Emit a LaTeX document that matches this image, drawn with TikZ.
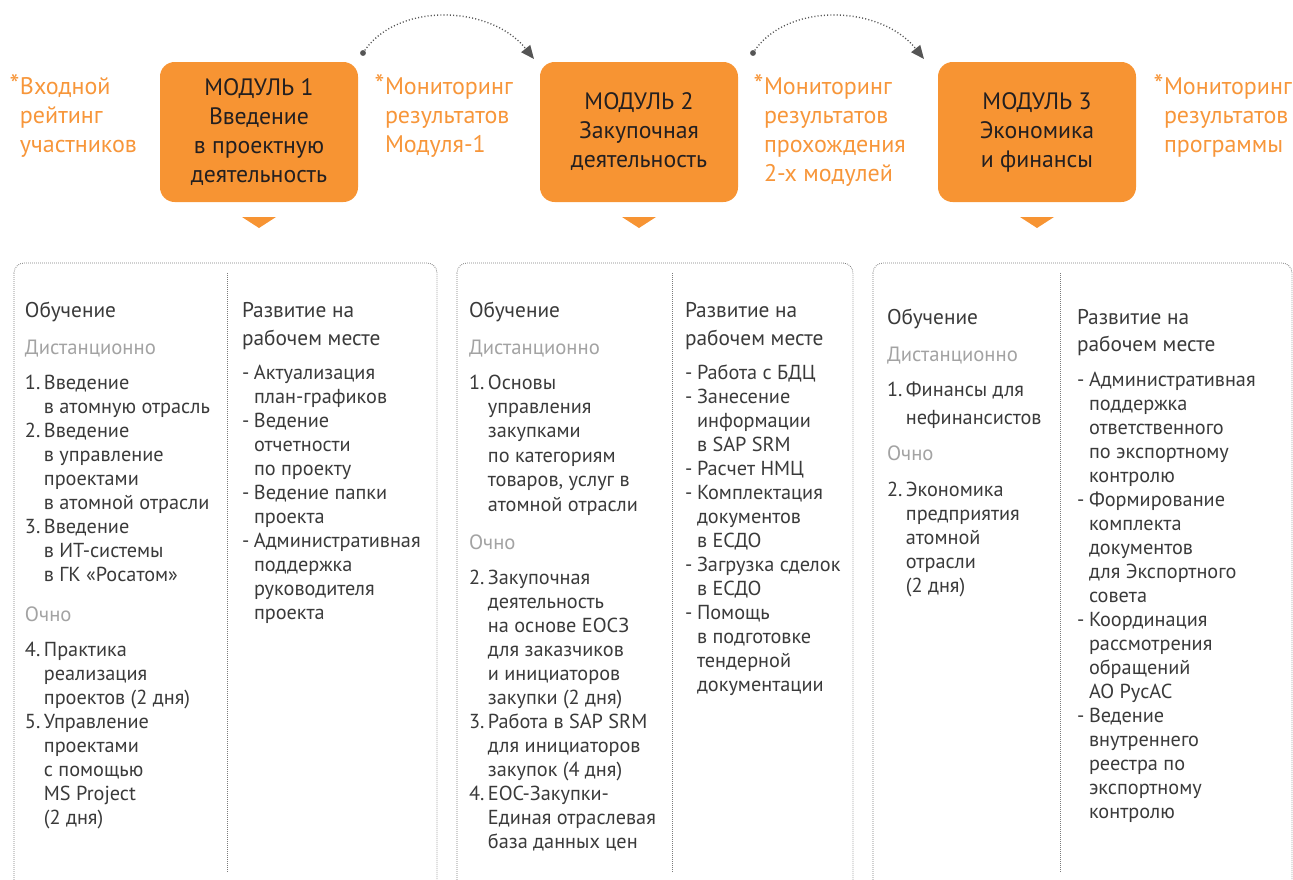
\documentclass[tikz,border=0pt]{standalone}
\usepackage{fontspec}
\setmainfont{PT Sans}
\usetikzlibrary{arrows.meta}
\definecolor{org}{HTML}{F79433}
\definecolor{lblc}{HTML}{F7963A}
\definecolor{moddark}{HTML}{231F20}
\definecolor{txt}{HTML}{3A3A3A}
\definecolor{subgray}{HTML}{A3A3A3}
\definecolor{framegray}{HTML}{7A7A7A}
\definecolor{arcgray}{HTML}{555555}
\newcommand\nm[1]{\makebox[14.2pt][l]{#1}}
\newcommand\ind{\hspace*{14.2pt}}
\newcommand\ds{\makebox[9pt][l]{-}}
\newcommand\dind{\hspace*{9pt}}
\newcommand\rows[5]{\foreach \t [count=\i from 0] in {#5}{\node[#1] at (#2,{#3+\i*#4}) {\t};}}
\tikzset{
  modbox/.style={fill=org, rounded corners=11pt, text=moddark, align=center,
    font=\fontsize{17.8}{21.75}\selectfont, minimum width=148.5pt, minimum height=105pt},
  lbl/.style={anchor=base west, text=lblc, font=\fontsize{18}{21.75}\selectfont},
  head/.style={anchor=base west, text=txt, font=\fontsize{16}{18}\selectfont},
  subh/.style={anchor=base west, text=subgray, font=\fontsize{15.5}{18}\selectfont},
  body/.style={anchor=base west, text=txt, font=\fontsize{15.2}{18}\selectfont},
  frame/.style={draw=framegray, line width=0.6pt, dash pattern=on 0.6pt off 0.9pt, rounded corners=7.5pt},
  arc/.style={draw=arcgray, line width=1pt, dash pattern=on 0.8pt off 1.6pt, -{Triangle[length=10pt,width=8.5pt]}},
  tri/.style={fill=org}
}
\newcommand\starmark{\llap{{\fontsize{21}{21}\selectfont*}\hspace{0.5pt}}}
\begin{document}
\begin{tikzpicture}[x=0.75pt,y=-0.75pt, every node/.style={inner sep=0pt, outer sep=0pt}]
\useasboundingbox (0,0) rectangle (1293,879);

% module boxes
\node[modbox] (m1) at (259,132) {МОДУЛЬ 1\\Введение\\в проектную\\деятельность};
\node[modbox] (m2) at (639,132) {МОДУЛЬ 2\\Закупочная\\деятельность};
\node[modbox] (m3) at (1037,132) {МОДУЛЬ 3\\Экономика\\и финансы};

\foreach \m in {m1,m2,m3}{
  \fill[tri] ([shift={(-17,15)}]\m.south) -- ([shift={(17,15)}]\m.south) -- ([shift={(0,26)}]\m.south) -- cycle;
}

% side labels
\rows{lbl}{20}{94}{29}{\starmark Входной,рейтинг,участников}
\rows{lbl}{385}{94}{29}{\starmark Мониторинг,результатов,Модуля-1}
\rows{lbl}{764}{94}{29}{\starmark Мониторинг,результатов,прохождения,2-х модулей}
\rows{lbl}{1164}{94}{29}{\starmark Мониторинг,результатов,программы}

% arcs
\coordinate (a1s) at (363,53); \coordinate (a1e) at (534,59);
\coordinate (a2s) at (753,53); \coordinate (a2e) at (924,59);
\fill[arcgray] (a1s) circle (2.2pt);
\fill[arcgray] (a2s) circle (2.2pt);
\draw[arc] (a1s) .. controls (395,2) and (490,4) .. (a1e);
\draw[arc] (a2s) .. controls (785,2) and (880,4) .. (a2e);

% frames
\draw[frame] (14,263) rectangle (437,892);
\draw[frame] (457,263) rectangle (853,892);
\draw[frame] (873,263) rectangle (1292,892);
\coordinate (s1t) at (227,273); \coordinate (s1b) at (227,872);
\coordinate (s2t) at (672,273); \coordinate (s2b) at (672,872);
\coordinate (s3t) at (1060,273); \coordinate (s3b) at (1060,872);
\draw[frame] (s1t) -- (s1b);
\draw[frame] (s2t) -- (s2b);
\draw[frame] (s3t) -- (s3b);

% box 1
\node[head] at (25,317) {Обучение};
\node[subh] at (25,354) {Дистанционно};
\rows{body}{25}{389}{24}{\nm{1.}Введение,\ind в атомную отрасль,\nm{2.}Введение,\ind в управление,\ind проектами,\ind в атомной отрасли,\nm{3.}Введение,\ind в ИТ-системы,\ind в ГК «Росатом»}
\node[subh] at (25,621) {Очно};
\rows{body}{25}{656}{24}{\nm{4.}Практика,\ind реализация,\ind проектов (2 дня),\nm{5.}Управление,\ind проектами,\ind с помощью,\ind MS Project,\ind (2 дня)}
\rows{head}{242}{317}{28}{Развитие на,рабочем месте}
\rows{body}{242}{379}{24}{\ds Актуализация,\dind план-графиков,\ds Ведение,\dind отчетности,\dind по проекту,\ds Ведение папки,\dind проекта,\ds Административная,\dind поддержка,\dind руководителя,\dind проекта}

% box 2
\node[head] at (469,317) {Обучение};
\node[subh] at (469,354) {Дистанционно};
\rows{body}{469}{389}{24.4}{\nm{1.}Основы,\ind управления,\ind закупками,\ind по категориям,{\ind товаров, услуг в},\ind атомной отрасли}
\node[subh] at (469,549) {Очно};
\rows{body}{469}{584}{24}{\nm{2.}Закупочная,\ind деятельность,\ind на основе ЕОСЗ,\ind для заказчиков,\ind и инициаторов,\ind закупки (2 дня),\nm{3.}Работа в SAP SRM,\ind для инициаторов,\ind закупок (4 дня),\nm{4.}ЕОС-Закупки-,\ind Единая отраслевая,\ind база данных цен}
\rows{head}{685}{317}{28}{Развитие на,рабочем месте}
\rows{body}{685}{379}{24}{\ds Работа с БДЦ,\ds Занесение,\dind информации,\dind в SAP SRM,\ds Расчет НМЦ,\ds Комплектация,\dind документов,\dind в ЕСДО,\ds Загрузка сделок,\dind в ЕСДО,\ds Помощь,\dind в подготовке,\dind тендерной,\dind документации}

% box 3
\node[head] at (887,324) {Обучение};
\node[subh] at (887,361) {Дистанционно};
\node[body] at (887,396) {\nm{1.}Финансы для};
\node[body] at (887,424) {\ind нефинансистов};
\node[subh] at (887,460) {Очно};
\rows{body}{887}{496}{24}{\nm{2.}Экономика,\ind предприятия,\ind атомной,\ind отрасли,\ind (2 дня)}
\rows{head}{1077}{324}{27}{Развитие на,рабочем месте}
\rows{body}{1077}{386}{24}{\ds Административная,\dind поддержка,\dind ответственного,\dind по экспортному,\dind контролю,\ds Формирование,\dind комплекта,\dind документов,\dind для Экспортного,\dind совета,\ds Координация,\dind рассмотрения,\dind обращений,\dind АО РусАС,\ds Ведение,\dind внутреннего,\dind реестра по,\dind экспортному,\dind контролю}
\end{tikzpicture}
\end{document}
